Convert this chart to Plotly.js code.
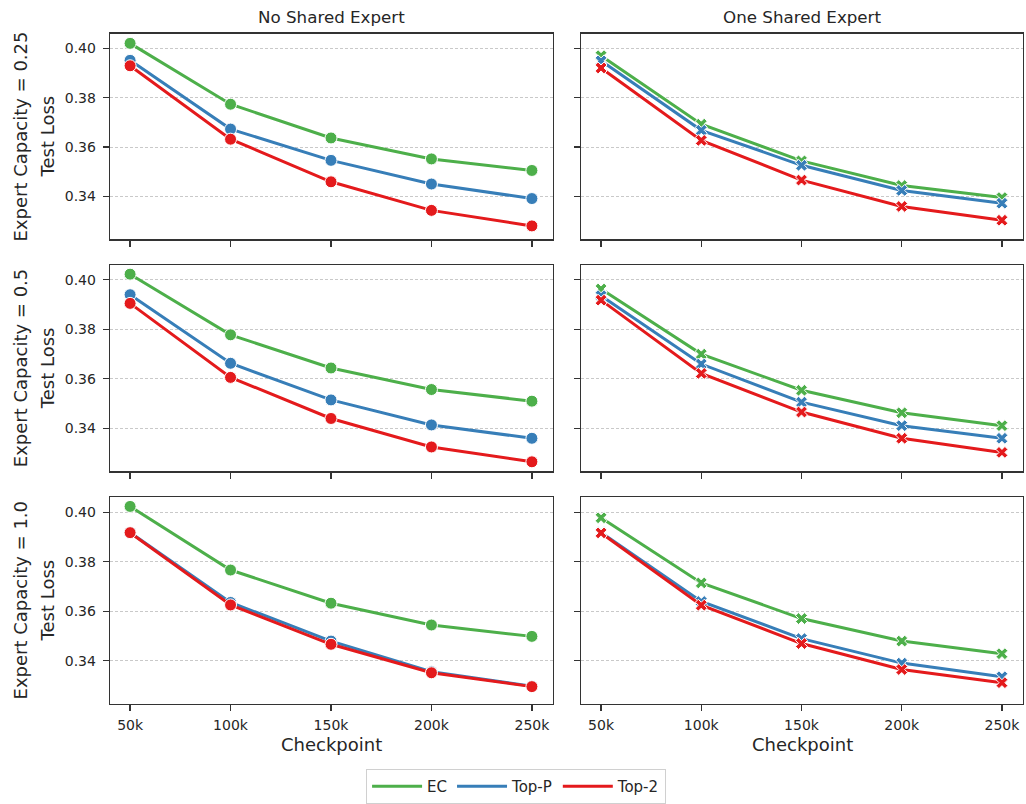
<!DOCTYPE html>
<html>
<head>
<meta charset="utf-8">
<script src="https://cdn.plot.ly/plotly-3.0.1.min.js"></script>
<style>body{margin:0;padding:0;background:#fff;} #chart{width:1026px;height:804px;}</style>
</head>
<body>
<div id="chart"></div>
<script>
const checkpoints = [50000, 100000, 150000, 200000, 250000];
const tickLabels = ["50k", "100k", "150k", "200k", "250k"];
const methods = ["EC", "Top-P", "Top-2"];
const colors = {"EC": "#4daf4a", "Top-P": "#377eb8", "Top-2": "#e41a1c"};
const capacities = ["0.25", "0.5", "1.0"];
const colTitles = ["No Shared Expert", "One Shared Expert"];

// No Shared Expert
const noShared_025_EC   = [0.4021, 0.3774, 0.3637, 0.3552, 0.3505];
const noShared_025_TopP = [0.3952, 0.3673, 0.3546, 0.3450, 0.3391];
const noShared_025_Top2 = [0.3930, 0.3632, 0.3459, 0.3343, 0.3280];
const noShared_05_EC    = [0.4023, 0.3778, 0.3644, 0.3557, 0.3510];
const noShared_05_TopP  = [0.3940, 0.3663, 0.3515, 0.3414, 0.3360];
const noShared_05_Top2  = [0.3905, 0.3606, 0.3440, 0.3325, 0.3265];
const noShared_10_EC    = [0.4023, 0.3766, 0.3632, 0.3544, 0.3498];
const noShared_10_TopP  = [0.3918, 0.3635, 0.3479, 0.3355, 0.3297];
const noShared_10_Top2  = [0.3917, 0.3625, 0.3466, 0.3351, 0.3295];
// One Shared Expert
const shared_025_EC   = [0.3971, 0.3693, 0.3544, 0.3444, 0.3395];
const shared_025_TopP = [0.3950, 0.3668, 0.3526, 0.3424, 0.3372];
const shared_025_Top2 = [0.3921, 0.3627, 0.3466, 0.3359, 0.3303];
const shared_05_EC    = [0.3963, 0.3700, 0.3554, 0.3463, 0.3411];
const shared_05_TopP  = [0.3936, 0.3660, 0.3506, 0.3411, 0.3360];
const shared_05_Top2  = [0.3918, 0.3622, 0.3466, 0.3360, 0.3303];
const shared_10_EC    = [0.3977, 0.3714, 0.3570, 0.3479, 0.3428];
const shared_10_TopP  = [0.3918, 0.3639, 0.3489, 0.3390, 0.3335];
const shared_10_Top2  = [0.3916, 0.3624, 0.3469, 0.3364, 0.3311];

const grid = [
  [[noShared_025_EC, noShared_025_TopP, noShared_025_Top2], [shared_025_EC, shared_025_TopP, shared_025_Top2]],
  [[noShared_05_EC, noShared_05_TopP, noShared_05_Top2], [shared_05_EC, shared_05_TopP, shared_05_Top2]],
  [[noShared_10_EC, noShared_10_TopP, noShared_10_Top2], [shared_10_EC, shared_10_TopP, shared_10_Top2]]
];

const W = 1026, H = 804;
const colPx = [[110, 553], [581, 1023]];
const rowPx = [[34, 241], [267, 475], [501, 709]];
const font = "DejaVu Sans, Verdana, sans-serif";
const dark = "#333333";
const txt = "#262626";

const traces = [];
const layout = {
  width: W, height: H,
  margin: {l: 0, r: 0, t: 0, b: 0},
  paper_bgcolor: "#fff", plot_bgcolor: "#fff",
  font: {family: font, size: 14, color: txt},
  showlegend: true,
  legend: {
    orientation: "h", x: 0.503, xanchor: "center", y: 1 - 775/H, yanchor: "top",
    bordercolor: "#d0d0d0", borderwidth: 1, bgcolor: "#fff",
    font: {size: 15, color: txt}, itemwidth: 50, tracegroupgap: 0
  },
  annotations: []
};

let idx = 0;
for (let r = 0; r < 3; r++) {
  for (let c = 0; c < 2; c++) {
    idx++;
    const xa = idx === 1 ? "xaxis" : "xaxis" + idx;
    const ya = idx === 1 ? "yaxis" : "yaxis" + idx;
    const xr = idx === 1 ? "x" : "x" + idx;
    const yr = idx === 1 ? "y" : "y" + idx;
    layout[xa] = {
      domain: [colPx[c][0]/W, colPx[c][1]/W],
      anchor: yr,
      range: [40000, 260500],
      tickvals: checkpoints, ticktext: tickLabels,
      showticklabels: r === 2,
      ticks: "outside", ticklen: 6, tickwidth: 1.2, tickcolor: dark,
      ticklabelstandoff: 2,
      showline: true, linecolor: dark, linewidth: 1.3, mirror: true,
      showgrid: false, zeroline: false,
      tickfont: {size: 14, color: txt}
    };
    layout[ya] = {
      domain: [1 - rowPx[r][1]/H, 1 - rowPx[r][0]/H],
      anchor: xr,
      range: [0.3226, 0.406],
      tickvals: [0.34, 0.36, 0.38, 0.40],
      tickformat: ".2f",
      showticklabels: c === 0,
      ticks: "outside", ticklen: 6, tickwidth: 1.2, tickcolor: dark,
      ticklabelstandoff: 4,
      showline: true, linecolor: dark, linewidth: 1.3, mirror: true,
      showgrid: true, gridcolor: "#bbbbbb", gridwidth: 0.8, griddash: "3px,2px",
      zeroline: false,
      tickfont: {size: 14, color: txt}
    };
    const sym = c === 0 ? "circle" : "x";
    const sz = c === 0 ? 12 : 10.5;
    methods.forEach((m, k) => {
      traces.push({
        type: "scatter", mode: "lines+markers",
        x: checkpoints, y: grid[r][c][k],
        xaxis: xr, yaxis: yr,
        name: m, showlegend: false,
        line: {color: colors[m], width: 3},
        marker: {symbol: sym, size: sz, color: colors[m], line: {color: "#fff", width: 1}}
      });
    });
  }
}

// legend-only traces
methods.forEach(m => {
  traces.push({
    type: "scatter", mode: "lines", x: [null], y: [null],
    xaxis: "x", yaxis: "y", name: m, showlegend: true,
    line: {color: colors[m], width: 3}
  });
});

// column titles and x titles
colTitles.forEach((t, c) => {
  layout.annotations.push({
    text: t, xref: "paper", yref: "paper",
    x: (colPx[c][0] + colPx[c][1]) / 2 / W, y: 1 - 17/H,
    xanchor: "center", yanchor: "middle", showarrow: false,
    font: {size: 16.7, color: txt}
  });
  layout.annotations.push({
    text: "Checkpoint", xref: "paper", yref: "paper",
    x: (colPx[c][0] + colPx[c][1]) / 2 / W, y: 1 - 750/H,
    xanchor: "center", yanchor: "middle", showarrow: false,
    font: {size: 18, color: txt}
  });
});

// row titles
capacities.forEach((cap, r) => {
  const cy = 1 - (rowPx[r][0] + rowPx[r][1]) / 2 / H;
  layout.annotations.push({
    text: "Expert Capacity = " + cap, xref: "paper", yref: "paper",
    x: 20/W, y: cy, xanchor: "center", yanchor: "middle",
    textangle: -90, showarrow: false, font: {size: 18, color: txt}
  });
  layout.annotations.push({
    text: "Test Loss", xref: "paper", yref: "paper",
    x: 47/W, y: cy, xanchor: "center", yanchor: "middle",
    textangle: -90, showarrow: false, font: {size: 18, color: txt}
  });
});

Plotly.newPlot("chart", traces, layout, {displayModeBar: false, staticPlot: true});
</script>
</body>
</html>
